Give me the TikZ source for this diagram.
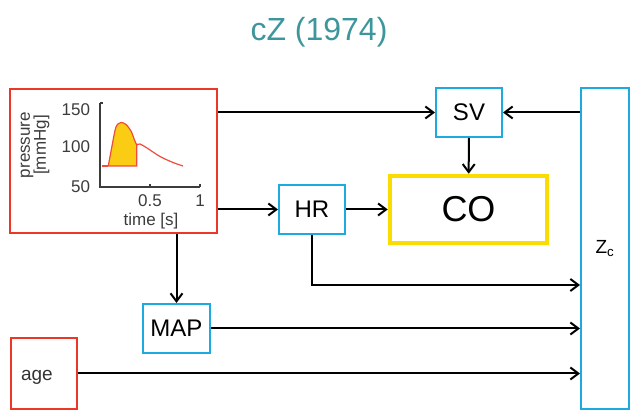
\documentclass[tikz,border=0pt]{standalone}
\usepackage{fontspec}
\setmainfont{Liberation Sans}
\usepackage{tikz}
\usetikzlibrary{arrows.meta,positioning,calc}
\usepackage{xcolor}
\definecolor{titleteal}{RGB}{60,150,155}
\definecolor{boxblue}{RGB}{30,170,225}
\definecolor{boxred}{RGB}{235,55,40}
\definecolor{curvered}{RGB}{240,75,60}
\definecolor{coyellow}{RGB}{250,220,0}
\definecolor{fillyellow}{RGB}{250,205,20}
\definecolor{axisgray}{RGB}{60,60,60}

\begin{document}
\begin{tikzpicture}[x=1pt,y=-1pt,
    >={Straight Barb[length=8pt,width=12pt]},
    line width=2pt,
    bluebox/.style={draw=boxblue,line width=2pt,minimum width=66pt,
                    minimum height=49pt,inner sep=0pt,font=\fontsize{24}{28}\selectfont},
    redbox/.style={draw=boxred,line width=2pt,inner sep=0pt},
    ticklabel/.style={font=\fontsize{17}{19}\selectfont,inner sep=0pt,text=axisgray}]

    \useasboundingbox (0,0) rectangle (630,411);

    \node[font=\fontsize{32}{35}\selectfont,text=titleteal] (title) at (319,32)
      {cZ (1974)};

    \node[redbox,minimum width=207pt,minimum height=144pt] (wave) at (113.5,161) {};
    \node[bluebox] (sv) at (469,112.5) {SV};
    \node[bluebox] (hr) at (312,209.5) {HR};
    \node[draw=coyellow,line width=4.5pt,minimum width=157pt,minimum height=67pt,
          inner sep=0pt,font=\fontsize{36}{38}\selectfont] (co) at (468.5,209.5) {CO};
    \node[bluebox,minimum width=67pt] (map) at (176.5,328.5) {MAP};
    \node[redbox,minimum width=66pt,minimum height=71pt,text width=46pt,
          inner xsep=10pt,align=left,text=black!80,text height=14pt,text depth=0pt,
          font=\fontsize{19}{22}\selectfont] (age) at (44,373.5) {age};
    \node[draw=boxblue,line width=2pt,minimum width=48pt,minimum height=321pt,
          inner sep=0pt,font=\fontsize{19}{20}\selectfont] (zc) at (605,248.5) {Z\textsubscript{c}};

    % pressure curve inside the red box
    \draw[curvered,line width=1.2pt,fill=fillyellow] plot[smooth] coordinates
      {(108.3,166) (112,146) (116,127) (121,122.5) (126,124.5) (131,131) (134.5,140) (136.7,145)}
      -- (136.7,166) -- cycle;
    \draw[curvered,line width=1.2pt] (101.7,166) -- (108.3,166);
    \draw[curvered,line width=1.2pt] plot[smooth] coordinates
      {(136.7,145) (140,144) (147,148) (160,156.5) (173,162.5) (183,166)};
    \draw[axisgray,line width=1.3pt] (100,103) -- (100,187) -- (200,187);
    \draw[axisgray,line width=1.3pt] (100,103) -- (103,103);
    \draw[axisgray,line width=1.3pt] (150,187) -- (150,184);
    \draw[axisgray,line width=1.3pt] (200,187) -- (200,184);
    \node[ticklabel,anchor=east] (p150) at (91,110) {150};
    \node[ticklabel,anchor=east] (p100) at (91,147) {100};
    \node[ticklabel,anchor=east] (p50) at (91,187) {50};
    \node[ticklabel] (t05) at (150,201) {0.5};
    \node[ticklabel] (t1) at (200,201) {1};
    \node[ticklabel] (tlab) at (151,221) {time [s]};
    \node[ticklabel,rotate=90,align=center,font=\fontsize{17}{16}\selectfont] (plab) at (35,145)
      {pressure\\{[mmHg]}};

    \draw[->] (sv.west -| wave.east) -- (sv.west);
    \draw[->] (sv.east -| zc.west) -- (sv.east);
    \draw[->] (sv) -- (co);
    \draw[->] (hr.west -| wave.east) -- (hr.west);
    \draw[->] (hr) -- (co);
    \draw[->] (hr.south) |- ([yshift=-36.5pt]zc.west);
    \draw[->] (wave.south -| map.north) -- (map.north);
    \draw[->] (map.east) -- (map.east -| zc.west);
    \draw[->] (age.east) -- (age.east -| zc.west);
  \end{tikzpicture}
\end{document}
